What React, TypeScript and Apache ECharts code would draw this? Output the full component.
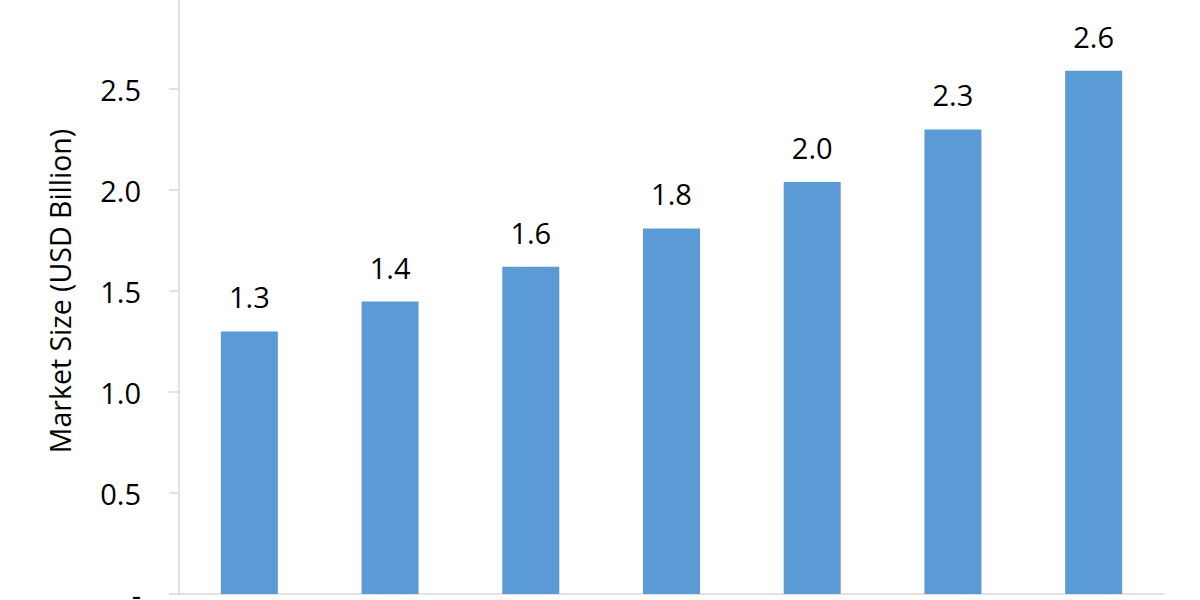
import React, { useEffect, useRef } from 'react';
import * as echarts from 'echarts';
import type { EChartsOption } from 'echarts';

// values; category labels sit below the visible area
const categories = ['C1', 'C2', 'C3', 'C4', 'C5', 'C6', 'C7'];
const marketSize = [1.30, 1.448, 1.62, 1.81, 2.04, 2.30, 2.59];
const yMin = 0;
const yMax = 3;
const yStep = 0.5;
const yName = 'Market Size (USD Billion)';

const FONT = '"Open Sans", "Noto Sans", sans-serif';
const BAR = '#5B9BD5';
const AXIS = '#D9D9D9';

export default function App() {
  const ref = useRef<HTMLDivElement>(null);

  useEffect(() => {
    document.body.style.margin = '0';
    if (!ref.current) return;
    const chart = echarts.init(ref.current, null, { renderer: 'svg' });

    const option: EChartsOption = {
      animation: false,
      backgroundColor: '#ffffff',
      grid: {
        left: 179, right: 36, top: -12, bottom: 6,
        containLabel: false,
        outerBoundsMode: 'none',
      } as any,
      xAxis: {
        type: 'category',
        data: categories,
        axisLine: { show: true, lineStyle: { color: AXIS, width: 1.5 } },
        axisTick: { show: false },
        axisLabel: { show: false },
      },
      yAxis: {
        type: 'value',
        min: yMin,
        max: yMax,
        interval: yStep,
        name: yName,
        nameLocation: 'middle',
        nameGap: 105,
        nameTextStyle: { fontFamily: FONT, fontSize: 28.5, color: '#000000' },
        axisLine: { show: true, lineStyle: { color: AXIS, width: 1.5 } },
        axisTick: { show: true, length: 10, lineStyle: { color: AXIS, width: 1.5 } },
        splitLine: { show: false },
        axisLabel: {
          margin: 38,
          fontFamily: FONT,
          fontSize: 29,
          color: '#000000',
          formatter: (v: number) => (v === 0 ? '-' : v.toFixed(1)),
        },
      },
      series: [
        {
          type: 'bar',
          data: marketSize,
          barWidth: 57,
          itemStyle: { color: BAR },
          label: {
            show: true,
            position: 'top',
            distance: 20,
            fontFamily: FONT,
            fontSize: 29,
            color: '#000000',
            formatter: (p: any) => Number(p.value).toFixed(1),
          },
        },
      ],
    };

    chart.setOption(option);
    return () => chart.dispose();
  }, []);

  return <div ref={ref} style={{ width: 1200, height: 600 }} />;
}
